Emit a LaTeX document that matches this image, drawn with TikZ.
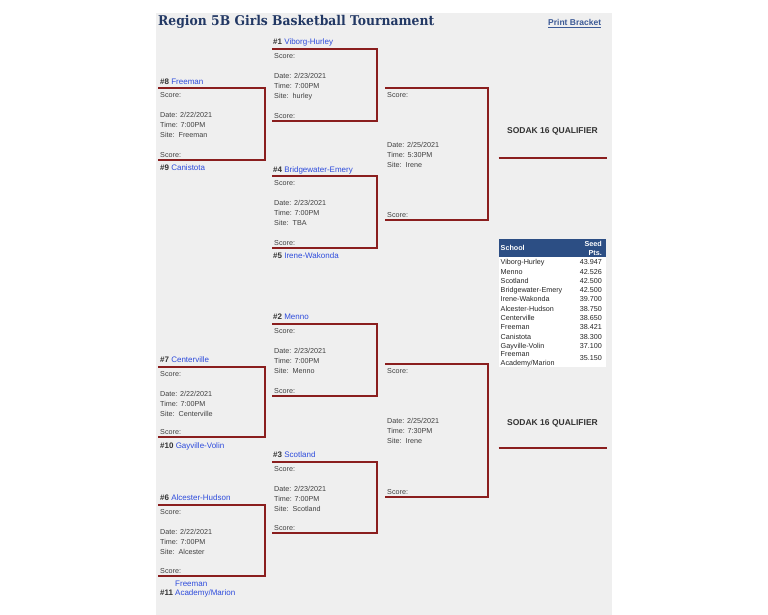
\documentclass[tikz,border=0pt]{standalone}
\usepackage{fontspec}
\setmainfont{Liberation Sans}
\newfontfamily\titlefont{DejaVu Serif}
\definecolor{panel}{RGB}{239,239,239}
\definecolor{bracket}{RGB}{138,30,30}
\definecolor{txtgray}{RGB}{64,64,64}
\definecolor{numgray}{RGB}{51,51,51}
\definecolor{linkblue}{RGB}{45,75,220}
\definecolor{titleblue}{RGB}{34,56,100}
\definecolor{printblue}{RGB}{60,90,150}
\definecolor{headblue}{RGB}{44,78,132}
\newcommand{\seedname}[2]{{\bfseries\color{numgray}\##1} {\color{linkblue}#2}}
\tikzset{
  bline/.style={draw=bracket,line width=2.2bp},
  info/.style={anchor=west,inner sep=0pt,text height=5.2bp,text depth=0pt,text=txtgray,font=\fontsize{7.2bp}{8.6bp}\selectfont},
  seedlbl/.style={anchor=west,inner sep=0pt,text height=5.8bp,text depth=0pt,font=\fontsize{8bp}{9.6bp}\selectfont},
  qual/.style={inner sep=0pt,text=numgray,font=\bfseries\fontsize{8.5bp}{10bp}\selectfont},
  row/.style={inner sep=0pt,text height=5.2bp,text depth=0pt,text=black!85,font=\fontsize{7.2bp}{8.6bp}\selectfont}
}
\begin{document}
\begin{tikzpicture}[x=1bp,y=-1bp]
      \useasboundingbox (0,0) rectangle (768,615);
      \fill[white] (0,0) rectangle (768,615);
      \fill[panel] (156,13) rectangle (612,615);
      \node[anchor=base west,inner sep=0pt,text=titleblue] (title) at (158,25.8)
        {\resizebox{276bp}{10.2bp}{\titlefont\bfseries Region 5B Girls Basketball Tournament}};
      \node[anchor=base west,inner sep=0pt,text=printblue,font=\bfseries\fontsize{8.5bp}{10bp}\selectfont] (print) at (548,26)
        {\underline{Print Bracket}};
      \foreach \nm/\xl/\xr/\yt/\yb/\dd/\tm/\st/\od in {
          fr/158/265/88/160/22/7:00PM/Freeman/27,
          ce/158/265/367/437/22/7:00PM/Centerville/27,
          al/158/265/505/576/22/7:00PM/Alcester/27,
          vh/272/377/49/121/23/7:00PM/hurley/27,
          be/272/377/176/248/23/7:00PM/TBA/27,
          me/272/377/324/396/23/7:00PM/Menno/27,
          sc/272/377/462/533/23/7:00PM/Scotland/27,
          sfa/385/488/88/220/25/5:30PM/Irene/57,
          sfb/385/488/364/497/25/7:30PM/Irene/57}{
        \coordinate (\nm-tl) at (\xl,\yt);
        \coordinate (\nm-tr) at (\xr,\yt);
        \coordinate (\nm-br) at (\xr,\yb);
        \coordinate (\nm-bl) at (\xl,\yb);
        \draw[bline] (\nm-tl) -- (\nm-tr) -- (\nm-br) -- (\nm-bl);
        \node[info] (\nm-s1) at (\xl+2,\yt+7) {Score:};
        \node[info] (\nm-d) at (\xl+2,\yt+\od) {Date: 2/\dd/2021};
        \node[info] (\nm-t) at (\xl+2,\yt+\od+10) {Time: \tm};
        \node[info] (\nm-x) at (\xl+2,\yt+\od+20) {Site:\ \ \st};
        \node[info] (\nm-s2) at (\xl+2,\yb-5) {Score:};
      }
      \begin{scope}[every node/.style={seedlbl}]
        \node (s8) at (160,82) {\seedname{8}{Freeman}};
        \node (s9) at (160,168) {\seedname{9}{Canistota}};
        \node (s7) at (160,360) {\seedname{7}{Centerville}};
        \node (s10) at (160,446) {\seedname{10}{Gayville-Volin}};
        \node (s6) at (160,497.7) {\seedname{6}{Alcester-Hudson}};
        \node (s11a) at (175,583.7) {\color{linkblue}Freeman};
        \node (s11) at (160,593) {\bfseries\color{numgray}\#11};
        \node (s11b) at (175,593) {\color{linkblue}Academy/Marion};
        \node (s1) at (273,42) {\seedname{1}{Viborg-Hurley}};
        \node (s4) at (273,169.3) {\seedname{4}{Bridgewater-Emery}};
        \node (s5) at (273,255.7) {\seedname{5}{Irene-Wakonda}};
        \node (s2) at (273,316.7) {\seedname{2}{Menno}};
        \node (s3) at (273,454.3) {\seedname{3}{Scotland}};
      \end{scope}
      \coordinate (qa-l) at (498.5,158.3);
      \coordinate (qa-r) at (607,158.3);
      \coordinate (qb-l) at (498.5,448.3);
      \coordinate (qb-r) at (607,448.3);
      \draw[bline] (qa-l) -- (qa-r);
      \draw[bline] (qb-l) -- (qb-r);
      \node[qual] (qa) at (552.5,131) {SODAK 16 QUALIFIER};
      \node[qual] (qb) at (552.5,423.3) {SODAK 16 QUALIFIER};
      \fill[headblue] (498.5,239.3) rectangle (606.3,256.5);
      \fill[white] (498.5,256.5) rectangle (606.3,367);
      \begin{scope}[every node/.style={row,text=white,font=\bfseries\fontsize{7.2bp}{8.6bp}\selectfont}]
        \node[anchor=west] (hschool) at (500.5,248.3) {School};
        \node[anchor=east] (hseed) at (602,244) {Seed};
        \node[anchor=east] (hpts) at (602,252.6) {Pts.};
      \end{scope}
      \foreach \sn/\pt [count=\i from 0] in {Viborg-Hurley/43.947,Menno/42.526,Scotland/42.500,
          Bridgewater-Emery/42.500,Irene-Wakonda/39.700,Alcester-Hudson/38.750,Centerville/38.650,
          Freeman/38.421,Canistota/38.300,Gayville-Volin/37.100}{
        \node[row,anchor=west] (school\i) at (500.5,262.3+9.27*\i) {\sn};
        \node[row,anchor=east] (pts\i) at (602,262.3+9.27*\i) {\pt};
      }
      \node[row,anchor=west] (school10a) at (500.5,354) {Freeman};
      \node[row,anchor=west] (school10b) at (500.5,362.7) {Academy/Marion};
      \node[row,anchor=east] (pts10) at (602,358.3) {35.150};
    \end{tikzpicture}
\end{document}
